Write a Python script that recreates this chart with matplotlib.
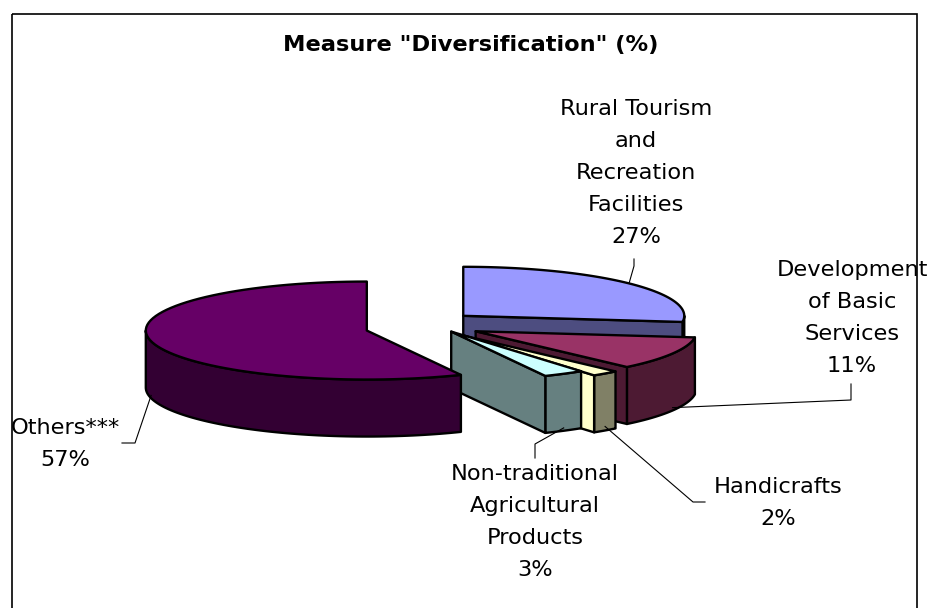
import numpy as np
import matplotlib.pyplot as plt
from matplotlib.patches import Polygon, Rectangle

# data
categories = ['Rural Tourism\nand\nRecreation\nFacilities',
              'Development\nof Basic\nServices',
              'Handicrafts',
              'Non-traditional\nAgricultural\nProducts',
              'Others***']
values = [27, 11, 2, 3, 57]
top_colors = ['#9999FF', '#993366', '#FFFFCC', '#CCFFFF', '#660066']
side_colors = ['#4D4D80', '#4D1A33', '#808066', '#668080', '#330033']
radial_colors = ['#4D4D80', '#4D1A33', '#FFFFCC', '#668080', '#330033']
explode = [31, 40, 38, 22, 75]

title = 'Measure "Diversification" (%)'

# layout (pixels)
W, H = 931, 608
cx, cy = 440, 324      # pie centre
R, r = 221, 49         # ellipse radii of top face
depth = 57
ke = 0.4               # vertical squash of explosion offsets

label_pos = [(636, 173), (852, 318), (778, 503), (535, 522), (65, 444)]
label_anchor_z = [0.0, 0.95, 0.93, 0.95, 0.95]
elbows = [[(634, 266), (634, 259)],
          [(851, 400), (851, 384)],
          [(693, 502), (705, 502)],
          [(535, 444), (535, 458)],
          [(135, 443), (122, 443)]]
draw_order = [0, 1, 2, 3, 4]

fig = plt.figure(figsize=(W / 100, H / 100), dpi=100)
ax = fig.add_axes([0, 0, 1, 1])
ax.set_xlim(0, W)
ax.set_ylim(H, 0)
ax.axis('off')

total = float(sum(values))
bounds = np.concatenate([[0], np.cumsum(values)]) / total * 360.0


def pt(c, th, dz=0.0):
    t = np.radians(th)
    return (c[0] + R * np.sin(t), c[1] - r * np.cos(t) + dz)


def arc(c, a, b, dz=0.0, n=80):
    return [pt(c, t, dz) for t in np.linspace(a, b, n)]


centres = []
for i in range(len(values)):
    a, b = bounds[i], bounds[i + 1]
    mid = np.radians((a + b) / 2)
    centres.append((cx + explode[i] * np.sin(mid),
                    cy - explode[i] * np.cos(mid) * ke))

edge = dict(edgecolor='black', linewidth=1.7, joinstyle='round')

for i in draw_order:
    a, b = bounds[i], bounds[i + 1]
    c = centres[i]
    # outer curved side (front half only)
    lo, hi = max(a, 90), min(b, 270)
    if hi > lo:
        pts = arc(c, lo, hi) + arc(c, hi, lo, depth)
        ax.add_patch(Polygon(pts, closed=True, facecolor=side_colors[i], **edge))
    # radial faces that look towards the viewer
    for ang, show in ((b, 0 < b < 180), (a, 180 < a < 360)):
        if show:
            p = pt(c, ang)
            ax.add_patch(Polygon([c, p, (p[0], p[1] + depth), (c[0], c[1] + depth)],
                                 closed=True, facecolor=radial_colors[i], **edge))
    # top face
    ax.add_patch(Polygon([c] + arc(c, a, b), closed=True,
                         facecolor=top_colors[i], **edge))

# labels and leader lines
for i in range(len(values)):
    a, b = bounds[i], bounds[i + 1]
    anchor = pt(centres[i], (a + b) / 2, depth * label_anchor_z[i])
    path = [anchor] + elbows[i]
    ax.plot([p[0] for p in path], [p[1] for p in path], color='black', lw=0.8)
    ax.text(label_pos[i][0], label_pos[i][1], f'{categories[i]}\n{values[i]}%',
            ha='center', va='center', fontsize=16.2, linespacing=1.76,
            color='black')

ax.text(471, 51, title, ha='center', va='baseline', fontsize=16.2,
        fontweight='bold')

ax.add_patch(Rectangle((12, 14), 905, 620, fill=False, edgecolor='black',
                       linewidth=1.2))

fig.savefig('out.png', dpi=100)
